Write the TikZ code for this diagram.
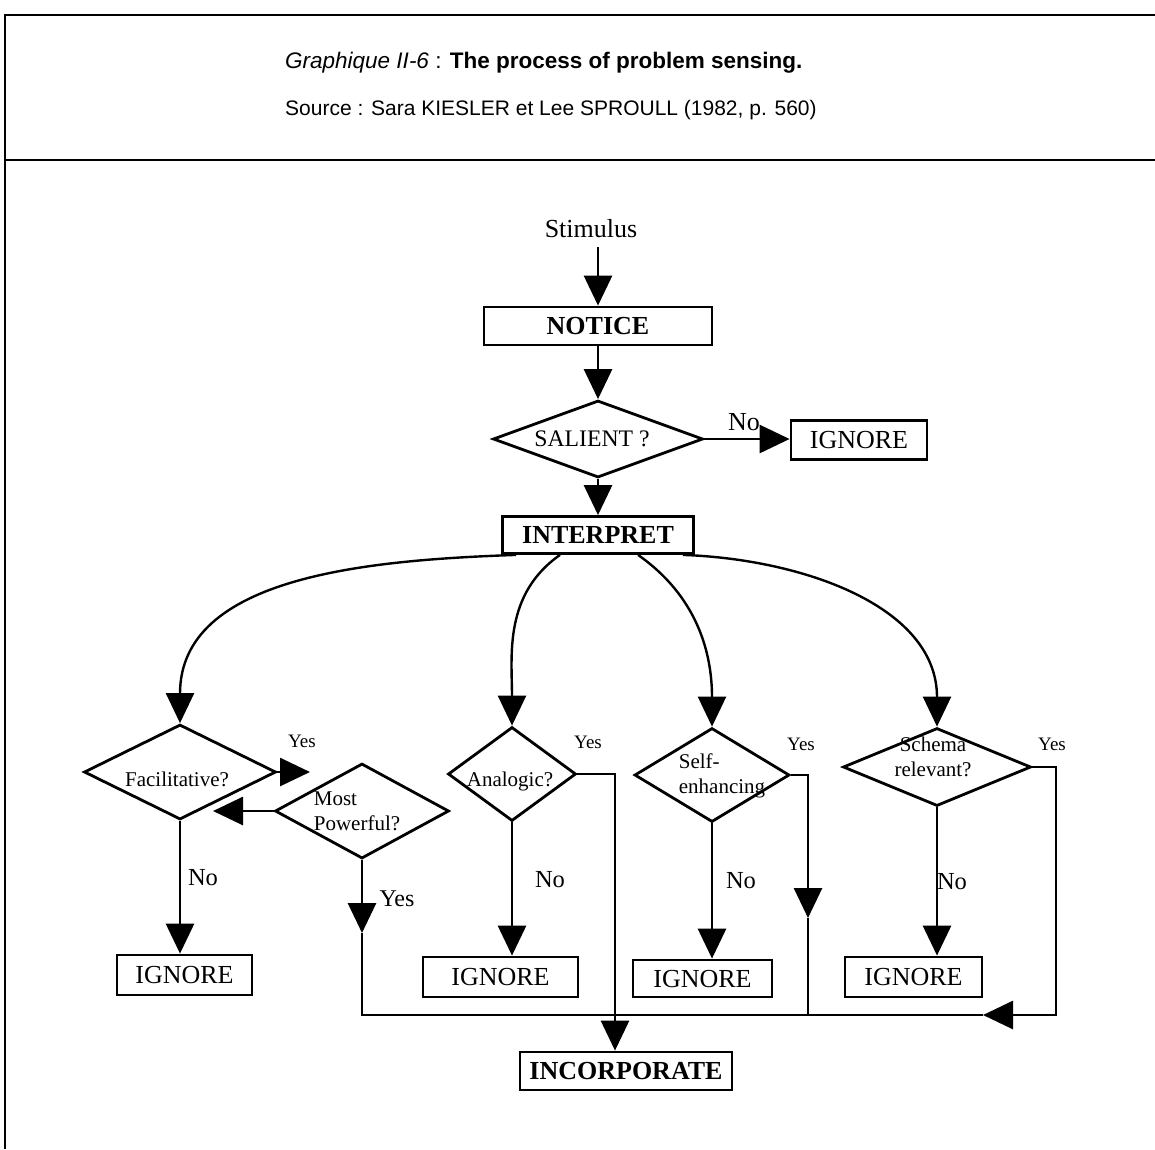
\documentclass[tikz,border=0pt]{standalone}
\usepackage{fontspec}
\setmainfont{Liberation Serif}
\newfontfamily\headfont{Liberation Sans}
\usetikzlibrary{arrows.meta,positioning,shapes.geometric}

\begin{document}
\begin{tikzpicture}[x=1pt,y=-1pt,
    psbox/.style={draw,line width=2.8pt,inner sep=0pt,
        font=\fontsize{26}{30}\selectfont},
    psdecision/.style={diamond,draw,line width=2.8pt,inner sep=0pt},
    psquestion/.style={inner sep=0pt,align=center,
        font=\fontsize{21}{25}\selectfont},
    psarrow/.style={-{Triangle[length=30pt,width=28pt]},line width=2.8pt},
    psline/.style={line width=2.8pt},
    pscurve/.style={-{Triangle[length=30pt,width=28pt]},line width=2.4pt},
    pslabel/.style={inner sep=0pt,font=\fontsize{19}{22}\selectfont},
    psno/.style={inner sep=0pt,font=\fontsize{24.5}{28}\selectfont}
]
\useasboundingbox (0,0) rectangle (1155,1149);
% header frame
\draw[psline] (5,1149) -- (5,15) -- (1155,15);
\draw[psline] (5,160) -- (1155,160);
\node[anchor=base west,inner sep=0pt,font=\headfont\fontsize{22.5}{26}\selectfont] (title) at (285,68)
    {\textit{Graphique II-6} : \textbf{The process of problem sensing.}};
\node[anchor=base west,inner sep=0pt,font=\headfont\fontsize{21}{25}\selectfont] (source) at (285,115)
    {Source : Sara KIESLER et Lee SPROULL (1982, p. 560)};
% main column
\node[inner sep=0pt,font=\fontsize{26}{30}\selectfont] (stim) at (591,229) {Stimulus};
\node[psbox,font=\fontsize{26}{30}\selectfont\bfseries,minimum width=228pt,minimum height=38pt] (notice) at (598,326) {NOTICE};
\node[psdecision,minimum width=210pt,minimum height=77pt] (salient) at (598,439) {};
\node[psquestion,font=\fontsize{23.7}{28}\selectfont] (salienttxt) at (592,439) {SALIENT ?};
\node[psbox,minimum width=136pt,minimum height=39pt] (ignsal) at (859,440) {IGNORE};
\node[psbox,font=\fontsize{26}{30}\selectfont\bfseries,minimum width=191pt,minimum height=37pt] (interp) at (598,535) {INTERPRET};
% decisions
\node[psdecision,minimum width=192pt,minimum height=95pt] (facil) at (180,772) {};
\node[psquestion] (faciltxt) at (177,779) {Facilitative?};
\node[psdecision,minimum width=174pt,minimum height=95pt] (power) at (362,811) {};
\node[psquestion,align=left] (powertxt) at (357,811) {Most\\Powerful?};
\node[psdecision,minimum width=128pt,minimum height=94pt] (analog) at (512,774) {};
\node[psquestion] (analogtxt) at (510,781) {Analogic?};
\node[psdecision,minimum width=155pt,minimum height=94pt] (selfenh) at (712,775) {};
\node[psquestion,align=left] (selfenhtxt) at (722,776) {Self-\\enhancing};
\node[psdecision,minimum width=188pt,minimum height=78pt] (schema) at (937,767) {};
\node[psquestion] (schematxt) at (933,757) {Schema\\relevant?};
% outcomes
\node[psbox,minimum width=135pt,minimum height=40pt] (ignfacil) at (184.5,975) {IGNORE};
\node[psbox,minimum width=155pt,minimum height=40pt] (ignanalog) at (500.5,977) {IGNORE};
\node[psbox,minimum width=139pt,minimum height=37pt] (ignself) at (702.5,978.5) {IGNORE};
\node[psbox,minimum width=137pt,minimum height=40pt] (ignschema) at (913.5,977) {IGNORE};
\node[psbox,font=\fontsize{26}{30}\selectfont\bfseries,minimum width=212pt,minimum height=38pt] (incorp) at (626,1071) {INCORPORATE};
% labels
\node[pslabel,font=\fontsize{26}{30}\selectfont] (nosal) at (744,422) {No};
\node[pslabel] (yesfacil) at (302,741) {Yes};
\node[pslabel] (yesanalog) at (588,742) {Yes};
\node[pslabel] (yesself) at (801,744) {Yes};
\node[pslabel] (yesschema) at (1052,744) {Yes};
\node[psno] (nofacil) at (203,878) {No};
\node[psno] (noanalog) at (550,880) {No};
\node[psno] (noself) at (741,881) {No};
\node[psno] (noschema) at (952,882) {No};
\node[psno,font=\fontsize{24}{28}\selectfont] (yespower) at (397,899) {Yes};
% free ends and rails
\coordinate (faciltip) at (310,772);
\coordinate (powertip) at (213,811);
\coordinate (powerdrop) at (362,933);
\coordinate (selfdrop) at (808,918);
\coordinate (schematurn) at (1056,1015);
\coordinate (schematip) at (983,1015);
\coordinate (bus) at (615,1015);
% connectors
\draw[psarrow] ([yshift=-9pt]notice.north |- stim.south) -- (notice.north);
\draw[psarrow] (notice.south) -- (salient.north);
\draw[psarrow] (salient.east) -- (salient.east -| ignsal.west);
\draw[psarrow] (salient.south) -- (interp.north);
\draw[pscurve] ([xshift=15pt]interp.south west) to[out=182,in=90] (facil.north);
\draw[pscurve] ([xshift=-38pt]interp.south) to[out=215,in=90] (analog.north);
\draw[pscurve] ([xshift=40pt]interp.south) to[out=-35,in=90] (selfenh.north);
\draw[pscurve] ([xshift=-12pt]interp.south east) to[out=-2,in=90] (schema.north);
\draw[psarrow] (facil.east) -- (faciltip);
\draw[psarrow] (power.west) -- (powertip);
\draw[psarrow] (facil.south) -- (facil.south |- ignfacil.north);
\draw[psarrow] (analog.south) -- (analog.south |- ignanalog.north);
\draw[psarrow] (selfenh.south) -- (selfenh.south |- ignself.north);
\draw[psarrow] (schema.south) -- (schema.south |- ignschema.north);
\draw[psarrow] (power.south) -- (powerdrop);
\draw[psline] (powerdrop) |- (bus);
\draw[psarrow] (selfenh.east) -| (selfdrop);
\draw[psline] (selfdrop) -- (selfdrop |- bus);
\draw[psarrow] (schema.east) -| (schematurn) -- (schematip);
\draw[psline] (schematip) -- (bus);
\draw[psarrow] (analog.east) -| (bus |- incorp.north);
\end{tikzpicture}
\end{document}
